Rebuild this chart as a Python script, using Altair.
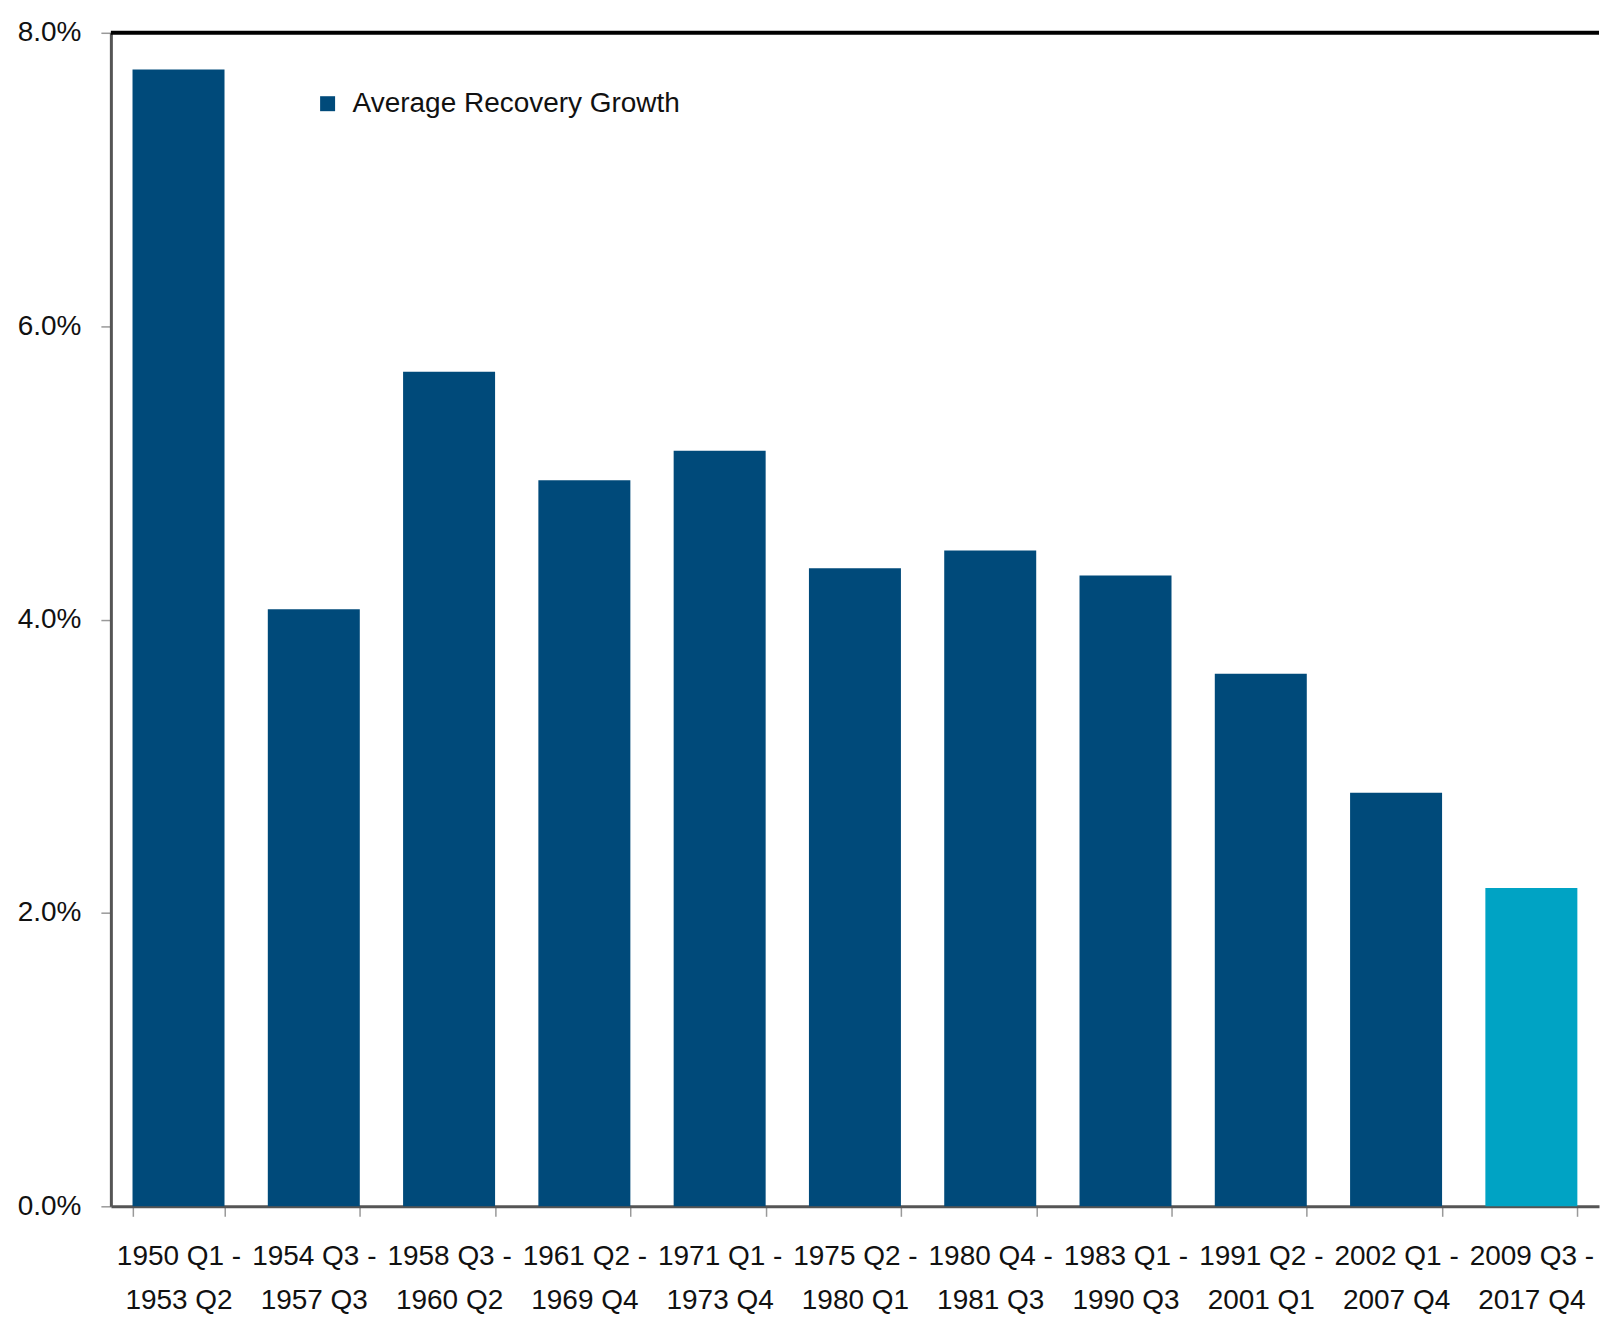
import altair as alt
import pandas as pd

periods = [
    "1950 Q1 -|1953 Q2", "1954 Q3 -|1957 Q3", "1958 Q3 -|1960 Q2", "1961 Q2 -|1969 Q4",
    "1971 Q1 -|1973 Q4", "1975 Q2 -|1980 Q1", "1980 Q4 -|1981 Q3", "1983 Q1 -|1990 Q3",
    "1991 Q2 -|2001 Q1", "2002 Q1 -|2007 Q4", "2009 Q3 -|2017 Q4",
]
growth = [0.0775, 0.0407, 0.0569, 0.0495, 0.0515, 0.0435, 0.0447, 0.0430, 0.0363, 0.0282, 0.0217]
series = ["Average Recovery Growth"] * 10 + ["Current Recovery"]
y_ticks = [0.0, 0.02, 0.04, 0.06, 0.08]

DARK = "#004A7A"
LIGHT = "#00A3C4"
FONT = "Liberation Sans"

df = pd.DataFrame({"period": periods, "growth": growth, "series": series})

bars = alt.Chart(df).mark_bar().encode(
    x=alt.X(
        "period:N",
        sort=periods,
        title=None,
        scale=alt.Scale(paddingInner=0.32, paddingOuter=0.16),
        axis=alt.Axis(
            labelExpr="datum.value ? split(datum.value, '|') : ''",
            labelAngle=0,
            labelFont=FONT,
            labelFontSize=28,
            labelColor="#111111",
            labelLineHeight=44,
            labelPadding=26,
            labelBaseline="top",
            labelLimit=0,
            tickBand="extent",
            tickSize=10,
            tickColor="#999999",
            tickWidth=1.5,
            domainColor="#555555",
            domainWidth=3,
            grid=False,
        ),
    ),
    y=alt.Y(
        "growth:Q",
        title=None,
        scale=alt.Scale(domain=[0, 0.08], nice=False),
        axis=alt.Axis(
            values=y_ticks,
            format=".1%",
            labelFont=FONT,
            labelFontSize=28,
            labelColor="#111111",
            labelPadding=20,
            tickSize=10,
            tickColor="#999999",
            tickWidth=1.5,
            domainColor="#555555",
            domainWidth=3,
            grid=False,
            minExtent=103,
            maxExtent=103,
        ),
    ),
    color=alt.Color(
        "series:N",
        scale=alt.Scale(domain=["Average Recovery Growth", "Current Recovery"], range=[DARK, LIGHT]),
        legend=alt.Legend(
            values=["Average Recovery Growth"],
            title=None,
            orient="none",
            legendX=203,
            legendY=57,
            symbolType="square",
            symbolSize=225,
            symbolStrokeWidth=0,
            labelFont=FONT,
            labelFontSize=28,
            labelColor="#111111",
            labelOffset=11,
            labelLimit=0,
        ),
    ),
)

top_line = alt.Chart(pd.DataFrame({"v": [0.08]})).mark_rule(color="black", strokeWidth=4).encode(
    y=alt.Y("v:Q")
)

chart = alt.layer(bars, top_line).properties(
    width=1490,
    height=1175,
    padding={"left": 0, "top": 10, "right": 0, "bottom": 0},
).configure_view(stroke=None)

chart.save("out.html", embed_options={"renderer": "svg", "actions": False})
